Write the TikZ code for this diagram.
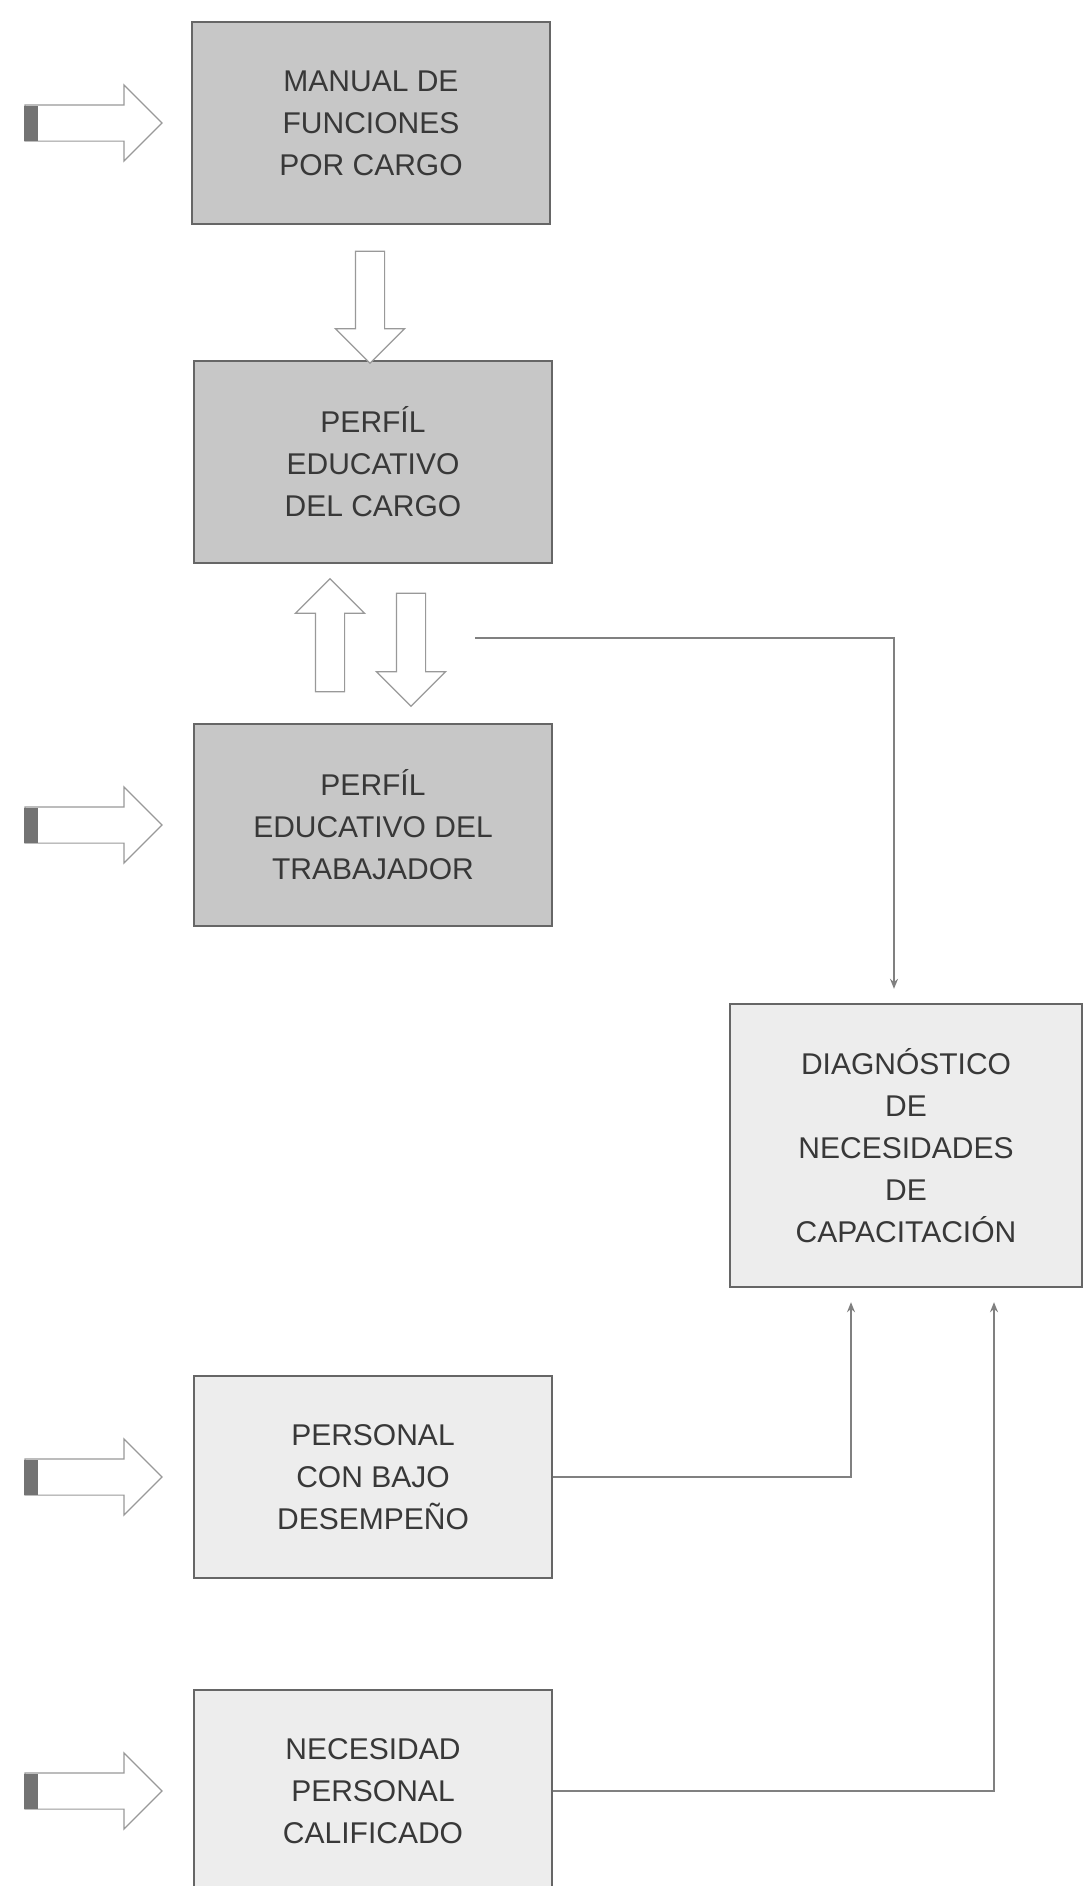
\documentclass[tikz,border=0pt]{standalone}
\usepackage{fontspec}
\setmainfont{Liberation Sans}
\usetikzlibrary{shapes.arrows, arrows.meta, positioning}

\begin{document}
\begin{tikzpicture}[x=0.5pt, y=-0.5pt]
    \tikzstyle{dark} = [rectangle, minimum width=179pt, minimum height=101pt, inner sep=0pt, align=center, draw=black!60, line width=1.2pt, fill=black!22, text=black!78, font=\fontsize{15}{21}\selectfont]
    \tikzstyle{light} = [dark, fill=black!7]
    \tikzstyle{bigarrow} = [single arrow, draw=black!40, fill=white, line width=0.6pt, inner sep=7pt, single arrow head extend=10pt, single arrow tip angle=90, single arrow head indent=0pt]
    \tikzstyle{inarrow} = [bigarrow, inner sep=8.75pt, minimum height=68.5pt]
    \tikzstyle{link} = [draw=black!50, line width=0.8pt, -{Stealth[length=5pt, width=4pt]}, shorten >=7pt]

    \useasboundingbox (0,0) rectangle (1084,1886);

    \node (manual) [dark] at (371,123) {MANUAL DE\\FUNCIONES\\POR CARGO};
    \node (perfilcargo) [dark] at (373,462) {PERFÍL\\EDUCATIVO\\DEL CARGO};
    \node (perfiltrab) [dark] at (373,825) {PERFÍL\\EDUCATIVO DEL\\TRABAJADOR};
    \node (diag) [light, minimum width=176pt, minimum height=141.5pt] at (906,1145.5) {DIAGNÓSTICO\\DE\\NECESIDADES\\DE\\CAPACITACIÓN};
    \node (bajo) [light] at (373,1477) {PERSONAL\\CON BAJO\\DESEMPEÑO};
    \node (calif) [light] at (373,1791) {NECESIDAD\\PERSONAL\\CALIFICADO};

    % block arrows
    \node (down1) [bigarrow, rotate=-90, minimum height=56pt] at (370,300) {};
    \node (up) [bigarrow, rotate=90, minimum height=56.5pt] at (330,642.5) {};
    \node (down2) [bigarrow, rotate=-90, minimum height=56.5pt] at (411,642.5) {};

    \foreach \n/\y in {inmanual/123, intrab/825, inbajo/1477, incalif/1791} {
        \node (\n) [inarrow] at (84.5,\y) {};
        \fill[black!55] (\n.west) ++(0,-17.5) rectangle ++(14,35);
    }

    \coordinate (split) at (475,638);
    \draw [link] (split) -| ([xshift=-6pt]diag.north);
    \draw [link] (bajo.east) -| ([xshift=-27.5pt]diag.south);
    \draw [link] (calif.east) -| ([xshift=44pt]diag.south);
\end{tikzpicture}
\end{document}
